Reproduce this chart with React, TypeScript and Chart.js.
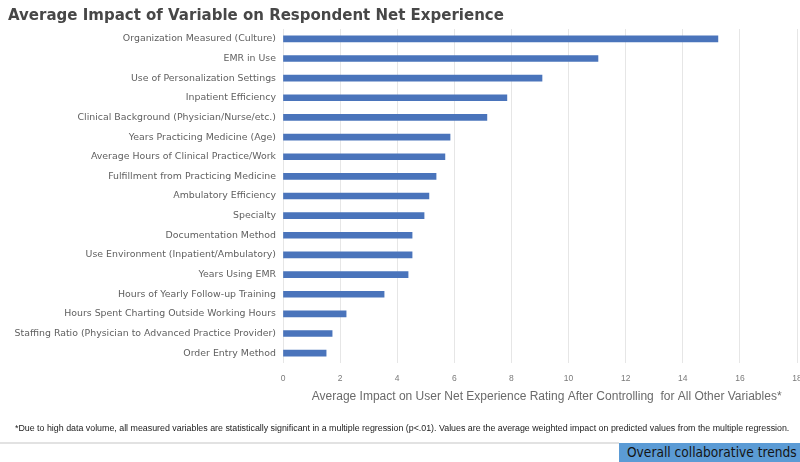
import React, { useEffect, useRef } from "react";
import { Chart, registerables } from "chart.js";

Chart.register(...registerables);

const categories: string[] = [
  "Organization Measured (Culture)",
  "EMR in Use",
  "Use of Personalization Settings",
  "Inpatient Efficiency",
  "Clinical Background (Physician/Nurse/etc.)",
  "Years Practicing Medicine (Age)",
  "Average Hours of Clinical Practice/Work",
  "Fulfillment from Practicing Medicine",
  "Ambulatory Efficiency",
  "Specialty",
  "Documentation Method",
  "Use Environment (Inpatient/Ambulatory)",
  "Years Using EMR",
  "Hours of Yearly Follow-up Training",
  "Hours Spent Charting Outside Working Hours",
  "Staffing Ratio (Physician to Advanced Practice Provider)",
  "Order Entry Method",
];

const impactValues: number[] = [
  15.23, 11.03, 9.07, 7.84, 7.14, 5.85, 5.67, 5.36, 5.11, 4.94, 4.52, 4.52, 4.38,
  3.54, 2.21, 1.72, 1.51,
];

const xMin = 0;
const xMax = 18;
const xStep = 2;

const chartTitle = "Average Impact of Variable on Respondent Net Experience";
const xAxisTitle =
  "Average Impact on User Net Experience Rating After Controlling  for All Other Variables*";
const footnote =
  "*Due to high data volume, all measured variables are statistically significant in a multiple regression (p<.01). Values are the average weighted impact on predicted values from the multiple regression.";
const badgeText = "Overall collaborative trends";

export default function App() {
  const canvasRef = useRef<HTMLCanvasElement | null>(null);

  useEffect(() => {
    if (!canvasRef.current) return;
    const chart = new Chart(canvasRef.current, {
      type: "bar",
      data: {
        labels: categories,
        datasets: [
          {
            data: impactValues,
            backgroundColor: "#4a74bb",
            borderWidth: 0,
            barThickness: 6,
          },
        ],
      },
      options: {
        indexAxis: "y",
        animation: false,
        responsive: false,
        maintainAspectRatio: false,
        layout: { padding: { left: 8, right: 3, top: 0, bottom: 58 } },
        plugins: {
          legend: { display: false },
          tooltip: { enabled: false },
          title: {
            display: true,
            text: chartTitle,
            align: "start",
            color: "#474747",
            font: { family: "'DejaVu Sans', sans-serif", size: 15, weight: "bold" },
            padding: { top: 7, bottom: 4 },
          },
        },
        scales: {
          x: {
            min: xMin,
            max: xMax,
            ticks: {
              stepSize: xStep,
              color: "#7a7a7a",
              padding: 11,
              font: { family: "'Liberation Sans', Arial, sans-serif", size: 8.5 },
            },
            grid: { color: "#e6e6e6", drawTicks: false },
            border: { display: false },
            title: {
              display: true,
              text: "    " + xAxisTitle,
              color: "#6a6a6a",
              font: { family: "'Liberation Sans', Arial, sans-serif", size: 12 },
              padding: { top: 0, bottom: 0 },
            },
            afterFit: (s: any) => {
              s.paddingLeft = 0;
              s.paddingRight = 0;
              s.height = 41;
            },
          },
          y: {
            ticks: {
              color: "#5f5f5f",
              padding: 7,
              autoSkip: false,
              font: { family: "'DejaVu Sans', sans-serif", size: 9.4 },
            },
            grid: { display: false, drawTicks: false, tickLength: 0 },
            border: { display: false },
            afterFit: (s: any) => {
              s.width = 275;
            },
          },
        },
      },
    });
    return () => chart.destroy();
  }, []);

  return (
    <div
      style={{
        position: "fixed",
        left: 0,
        top: 0,
        width: 800,
        height: 462,
        background: "#ffffff",
        overflow: "hidden",
      }}
    >
      <canvas ref={canvasRef} width={800} height={462} style={{ position: "absolute", left: 0, top: 0 }} />
      <div
        style={{
          position: "absolute",
          left: 15,
          top: 422,
          width: 780,
          fontFamily: "'Liberation Sans', Arial, sans-serif",
          fontSize: 8.85,
          lineHeight: "12px",
          color: "#222",
          whiteSpace: "nowrap",
        }}
      >
        {footnote}
      </div>
      <div
        style={{
          position: "absolute",
          left: 0,
          top: 442,
          width: 619,
          height: 2,
          background: "#e2e2e2",
        }}
      />
      <div
        style={{
          position: "absolute",
          left: 619,
          top: 443,
          width: 181,
          height: 19,
          background: "#5b9bd5",
          color: "#141414",
          fontFamily: "'Liberation Sans Narrow', 'DejaVu Sans Condensed', Roboto, sans-serif",
          fontSize: 13.6,
          lineHeight: "19px",
          paddingLeft: 8,
          boxSizing: "border-box",
          whiteSpace: "nowrap",
        }}
      >
        {badgeText}
      </div>
    </div>
  );
}
